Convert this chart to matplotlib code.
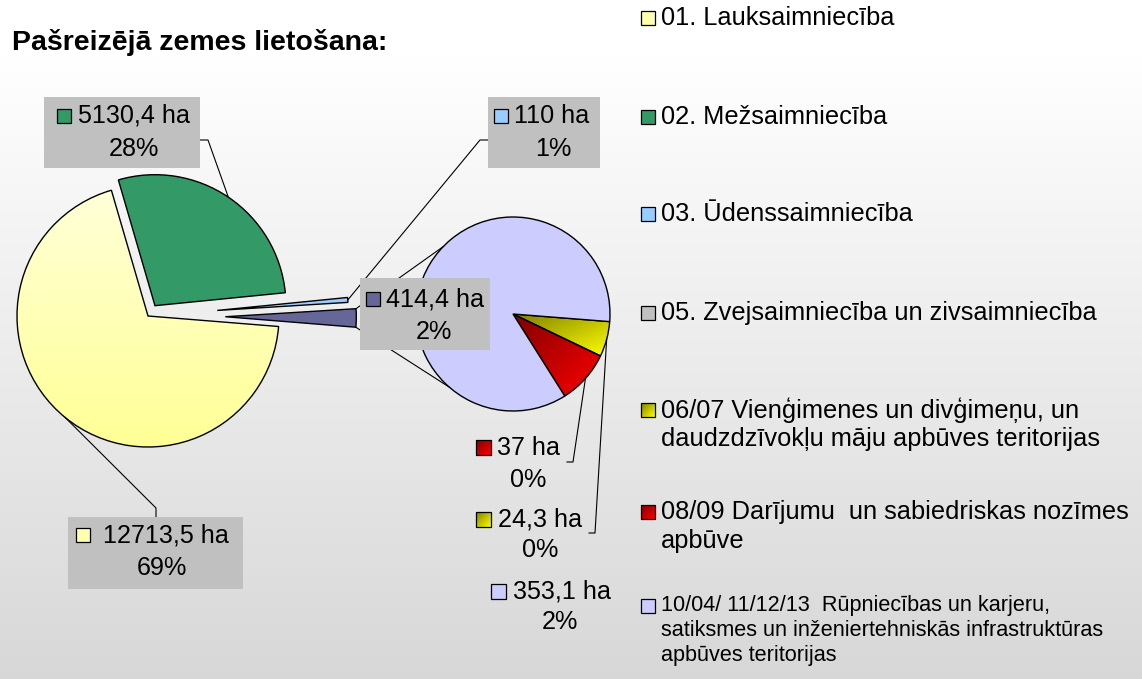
import numpy as np
import matplotlib
matplotlib.use("Agg")
import matplotlib.pyplot as plt
from matplotlib.patches import Rectangle
from matplotlib.colors import to_rgb

# ---------------- data ----------------
categories = [
    "01. Lauksaimniecība",
    "02. Mežsaimniecība",
    "03. Ūdenssaimniecība",
    "05. Zvejsaimniecība un zivsaimniecība",
    "06/07 Vienģimenes un divģimeņu, un\ndaudzdzīvokļu māju apbūves teritorijas",
    "08/09 Darījumu  un sabiedriskas nozīmes\napbūve",
    "10/04/ 11/12/13  Rūpniecības un karjeru,\nsatiksmes un inženiertehniskās infrastruktūras\napbūves teritorijas",
]
main_values = [12713.5, 5130.4, 110.0, 0.0]      # 01, 02, 03, 05
sub_values = [24.3, 37.0, 353.1]                 # 06/07, 08/09, 10/04/11/12/13
other_value = sum(sub_values)                    # 414,4 ha
title = "Pašreizējā zemes lietošana:"
unit = "ha"

colors = ["#FFFFB0", "#339966", "#99CCFF", "#C0C0C0", "#FFFF00", "#FF0000", "#CCCCFF"]
other_color = "#666699"
gradients = {0: ("#FFFFD8", "#FFFF96", "v"),
             4: ("#808000", "#FFFF00", "d"),
             5: ("#800000", "#FF0000", "d")}

# ---------------- figure ----------------
W, H = 1142, 679
fig = plt.figure(figsize=(W / 100, H / 100), dpi=100)

bg = fig.add_axes([0, 0, 1, 1])
bg.axis("off")
ys = np.arange(H)
t = np.clip((ys - 55) / (H - 55), 0, 1)
g = 1.0 - t * (1 - 0.845)
grad = np.repeat(g[:, None, None], 3, axis=2)
bg.imshow(grad, aspect="auto", extent=[0, 1, 0, 1], origin="upper")
bg.set_xlim(0, 1); bg.set_ylim(0, 1)

ax = fig.add_axes([0, 0, 1, 1])
ax.patch.set_alpha(0)


def Y(py):
    return H - py


FONT = "Liberation Sans"
total = sum(main_values) + other_value


def fmt_val(v):
    return f"{v:g}".replace(".", ",") + " " + unit


def fmt_pct(v):
    return f"{round(v / total * 100):.0f}%"


def gradient_fill(patch, c1, c2, mode, z):
    path = patch.get_path().transformed(patch.get_patch_transform())
    bb = path.get_extents()
    n = 100
    xs = np.linspace(0, 1, n)
    yy = np.linspace(0, 1, n)
    Xg, Yg = np.meshgrid(xs, yy)  # row 0 = bottom (origin lower)
    if mode == "v":
        tt = 1 - Yg
    else:
        tt = (Xg + (1 - Yg)) / 2
    a = np.array(to_rgb(c1)); b = np.array(to_rgb(c2))
    img = a[None, None, :] * (1 - tt[..., None]) + b[None, None, :] * tt[..., None]
    im = ax.imshow(img, extent=[bb.x0, bb.x1, bb.y0, bb.y1], origin="lower",
                   aspect="auto", zorder=z, interpolation="bilinear")
    im.set_clip_path(patch)
    patch.set_facecolor("none")


def key_square(px, py, ci, s=14, color=None):
    c = color if color is not None else colors[ci]
    r = Rectangle((px, Y(py) - s), s, s, facecolor=c, edgecolor="black",
                  linewidth=0.9, zorder=6)
    ax.add_patch(r)
    if color is None and ci in gradients and ci != 0:
        c1, c2, m = gradients[ci]
        gradient_fill(r, c1, c2, m, 5.9)


# ---------------- main pie ----------------
main_all = main_values + [other_value]
main_cols = colors[:4] + [other_color]
main_explode = [0.0, 0.095, 0.53, 0.0, 0.59]   # fraction of radius
idx = [i for i, v in enumerate(main_all) if v > 0]
C1 = (148, Y(316)); R1 = 131
wedges1, _ = ax.pie([main_all[i] for i in idx], colors=[main_cols[i] for i in idx],
                    explode=[main_explode[i] * R1 for i in idx], startangle=-4.6,
                    counterclock=False, center=C1, radius=R1, frame=True,
                    wedgeprops=dict(edgecolor="black", linewidth=1.0))
w_main = dict(zip(idx, wedges1))
c1_, c2_, m_ = gradients[0]
gradient_fill(w_main[0], c1_, c2_, m_, 0.9)

# ---------------- secondary pie ----------------
C2 = (513, Y(314)); R2 = 97
wedges2, _ = ax.pie(sub_values, colors=colors[4:], startangle=-4.5, counterclock=False,
                    center=C2, radius=R2, frame=True,
                    wedgeprops=dict(edgecolor="black", linewidth=1.0))
for k, w in enumerate(wedges2):
    ci = 4 + k
    if ci in gradients:
        c1g, c2g, mg = gradients[ci]
        gradient_fill(w, c1g, c2g, mg, 0.9)

# connector lines from "other" slice to secondary pie
wo = w_main[4]
cx, cy = wo.center
for th, th2 in [(wo.theta2, 136.0), (wo.theta1, -131.0)]:
    p1 = (cx + wo.r * np.cos(np.radians(th)), cy + wo.r * np.sin(np.radians(th)))
    p2 = (C2[0] + R2 * np.cos(np.radians(th2)), C2[1] + R2 * np.sin(np.radians(th2)))
    ax.plot([p1[0], p2[0]], [p1[1], p2[1]], color="black", lw=0.8, zorder=3)


def mid_point(w, frac=1.0):
    a = np.radians((w.theta1 + w.theta2) / 2)
    return (w.center[0] + w.r * frac * np.cos(a), w.center[1] + w.r * frac * np.sin(a))


def leader(w, pts):
    p = mid_point(w)
    xs = [p[0]] + [q[0] for q in pts]
    ys_ = [p[1]] + [Y(q[1]) for q in pts]
    ax.plot(xs, ys_, color="black", lw=0.8, zorder=3)


LFS = 18.1


def data_label(value, ci, box, key, t1, t2, keycolor=None, ks=14):
    if box is not None:
        x0, y0, x1, y1 = box
        ax.add_patch(Rectangle((x0, Y(y1)), x1 - x0, y1 - y0, facecolor="#C0C0C0",
                               edgecolor="none", zorder=5))
    key_square(key[0], key[1], ci, s=ks, color=keycolor)
    ax.text(t1[0], Y(t1[1]), fmt_val(value), fontsize=LFS, family=FONT,
            ha="left", va="center", zorder=7)
    ax.text(t2[0], Y(t2[1]), fmt_pct(value), fontsize=LFS, family=FONT,
            ha="center", va="center", zorder=7)


# leaders
leader(w_main[0], [(156, 508), (156, 517)])
leader(w_main[1], [(208, 140), (200, 140)])
leader(w_main[2], [(480, 140), (488, 140)])
leader(wedges2[1], [(573, 462), (567, 462)])
leader(wedges2[0], [(595, 533), (589, 533)])

# labels
data_label(main_values[0], 0, (68, 517, 243, 589), (76, 528), (103, 535), (162, 568))
data_label(main_values[1], 1, (44, 97, 200, 168), (57, 109), (78, 116), (134, 149))
data_label(main_values[2], 2, (488, 97, 600, 168), (494, 109), (514, 116), (553, 149))
data_label(other_value, None, (360, 278, 490, 350), (366, 292), (386, 299), (434, 332),
           keycolor=other_color)
data_label(sub_values[1], 5, None, (476, 440), (497, 448), (528, 480), ks=15)
data_label(sub_values[0], 4, None, (476, 512), (498, 519), (540, 550), ks=15)
data_label(sub_values[2], 6, None, (491, 584), (513, 592), (560, 622), ks=15)

# ---------------- legend ----------------
leg_y = [18, 117, 214, 313, 410, 512, 606]
for ci, (lab, yy) in enumerate(zip(categories, leg_y)):
    fs = 18.3 if ci < 6 else 15.6
    sp = 29 if ci < 6 else 24.5
    key_square(641, yy - 7, ci)
    for j, line in enumerate(lab.split("\n")):
        ax.text(661, Y(yy + j * sp), line, fontsize=fs, family=FONT,
                ha="left", va="center", zorder=7)

# ---------------- title ----------------
ax.text(12, Y(42), title, fontsize=20.5, family=FONT, fontweight="bold",
        ha="left", va="center", zorder=7)

ax.set_xlim(0, W)
ax.set_ylim(0, H)
ax.set_aspect("auto")
ax.axis("off")

fig.savefig("out.png", dpi=100)
